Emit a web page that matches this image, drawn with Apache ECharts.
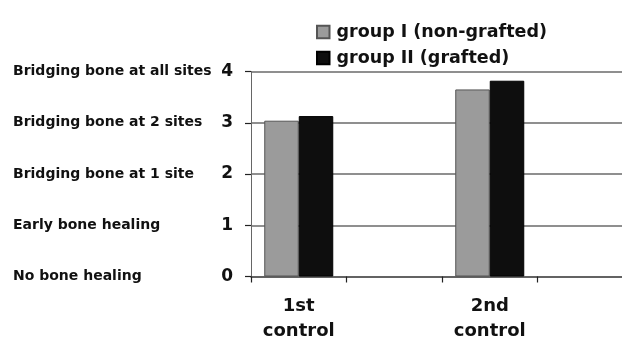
<!DOCTYPE html>
<html>
<head>
<meta charset="UTF-8">
<title>Bone healing score</title>
<script src="https://cdn.jsdelivr.net/npm/echarts@6/dist/echarts.min.js"></script>
<style>
    html, body { margin: 0; padding: 0; background: #fff; }
    /* plot continues a little past the right edge, like the cropped original */
    #wrap { width: 622px; height: 341px; overflow: hidden; position: relative; }
    #chart { width: 633px; height: 341px; position: absolute; left: 0; top: 0; }
</style>
</head>
<body>
<div id="wrap"><div id="chart"></div></div>
<script>
    // categories (the empty ones are the blank slots between/after the groups)
    const categories = ['1st\ncontrol', '', '2nd\ncontrol', ''];
    const seriesNames = ['group I (non-grafted)', 'group II (grafted)'];
    const groupI = [3.04, '-', 3.65, '-'];
    const groupII = [3.13, '-', 3.82, '-'];
    const scoreLabels = ['No bone healing', 'Early bone healing', 'Bridging bone at 1 site',
        'Bridging bone at 2 sites', 'Bridging bone at all sites'];

    const font = 'DejaVu Sans';
    const chart = echarts.init(document.getElementById('chart'));

    const option = {
        animation: false,
        legend: {
            orient: 'vertical',
            left: 311,
            top: 18,
            itemWidth: 12.5,
            itemHeight: 12.5,
            itemGap: 8,
            icon: 'rect',
            data: seriesNames,
            textStyle: {
                fontFamily: font,
                fontWeight: 'bold',
                fontSize: 17.5,
                color: '#111',
                padding: [0, 0, 0, 2]
            }
        },
        grid: {
            left: 251,
            right: 0,
            top: 71.5,
            bottom: 64.5,
            outerBoundsMode: 'none'
        },
        xAxis: {
            type: 'category',
            data: categories,
            axisLine: { lineStyle: { color: '#555', width: 1.5 } },
            axisTick: { show: true, length: 6, lineStyle: { color: '#222', width: 1.2 } },
            axisLabel: {
                margin: 17,
                fontFamily: font,
                fontWeight: 'bold',
                fontSize: 18,
                lineHeight: 25,
                color: '#111'
            }
        },
        yAxis: [
            {
                type: 'value',
                min: 0,
                max: 4,
                interval: 1,
                axisLine: { show: true, lineStyle: { color: '#666', width: 1 } },
                axisTick: { show: true, length: 6, lineStyle: { color: '#222', width: 1.2 } },
                splitLine: { lineStyle: { color: '#6a6a6a', width: 1.6 } },
                axisLabel: {
                    margin: 18,
                    fontFamily: font,
                    fontWeight: 'bold',
                    fontSize: 17,
                    color: '#111'
                }
            },
            {
                type: 'value',
                min: 0,
                max: 4,
                interval: 1,
                position: 'left',
                axisLine: { show: false },
                axisTick: { show: false },
                splitLine: { show: false },
                axisLabel: {
                    margin: 238,
                    align: 'left',
                    fontFamily: font,
                    fontWeight: 'bold',
                    fontSize: 14,
                    color: '#111',
                    formatter: function (v) { return scoreLabels[v]; }
                }
            }
        ],
        series: [
            {
                name: seriesNames[0],
                type: 'bar',
                data: groupI,
                barWidth: 34.5,
                barGap: '0%',
                itemStyle: { color: '#9b9b9b', borderColor: '#555', borderWidth: 1 }
            },
            {
                name: seriesNames[1],
                type: 'bar',
                data: groupII,
                barWidth: 34.5,
                itemStyle: { color: '#0e0e0e', borderColor: '#000', borderWidth: 1 }
            }
        ]
    };

    chart.setOption(option);
</script>
</body>
</html>
